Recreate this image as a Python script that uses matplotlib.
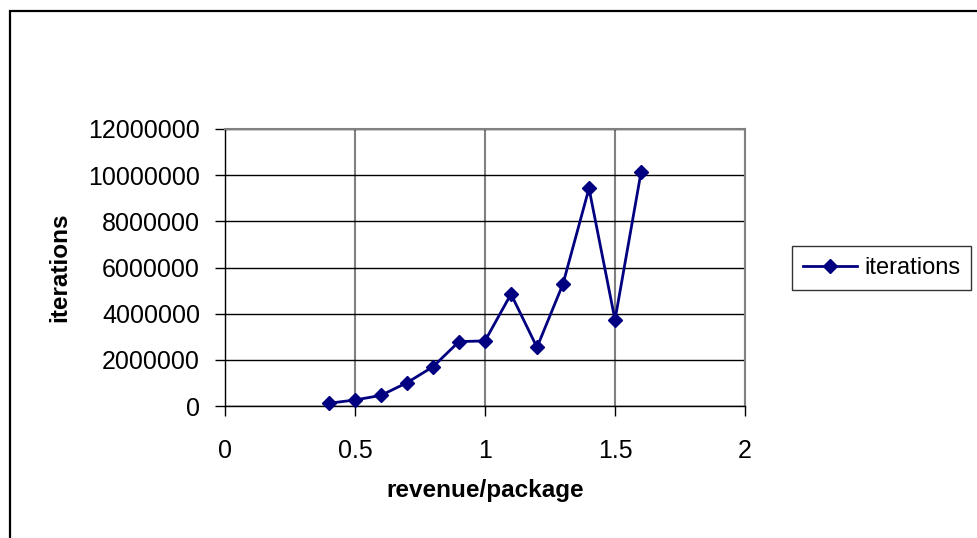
import numpy as np
import matplotlib
matplotlib.use("Agg")
import matplotlib.pyplot as plt
from matplotlib.patches import Rectangle

plt.rcParams["font.family"] = ["Liberation Sans", "DejaVu Sans"]

revenue = [0.4, 0.5, 0.6, 0.7, 0.8, 0.9, 1.0, 1.1, 1.2, 1.3, 1.4, 1.5, 1.6]
iterations = [120000, 260000, 460000, 1010000, 1700000, 2790000, 2820000,
              4850000, 2540000, 5290000, 9430000, 3730000, 10120000]
x_ticks = [0, 0.5, 1, 1.5, 2]
y_ticks = [0, 2000000, 4000000, 6000000, 8000000, 10000000, 12000000]

navy = "#000080"

fig = plt.figure(figsize=(9.78, 5.38), dpi=100)
# outer chart frame (runs off the right and bottom edges)
fig.patches.append(Rectangle((10 / 978, -0.1), 1.1, (538 - 11) / 538 + 0.1,
                             transform=fig.transFigure, fill=False,
                             edgecolor="black", linewidth=1.6))

ax = fig.add_axes([225 / 978, 1 - 406 / 538, 520 / 978, 277 / 538])
ax.set_xlim(0, 2)
ax.set_ylim(0, 12000000)
ax.set_xticks(x_ticks)
ax.set_xticklabels([f"{t:g}" for t in x_ticks])
ax.set_yticks(y_ticks)
ax.set_yticklabels([str(t) for t in y_ticks])

ax.grid(axis="y", color="black", linewidth=1)
ax.grid(axis="x", color="#808080", linewidth=1.5)
ax.set_axisbelow(True)
for side in ("top", "right"):
    ax.spines[side].set_color("#808080")
    ax.spines[side].set_linewidth(1.5)
for side in ("left", "bottom"):
    ax.spines[side].set_color("black")
    ax.spines[side].set_linewidth(1)

ax.tick_params(direction="out", length=7, width=1, labelsize=18)
ax.tick_params(axis="x", pad=17)
ax.tick_params(axis="y", pad=11)

ax.plot(revenue, iterations, color=navy, linewidth=2, marker="D",
        markersize=7, label="iterations", clip_on=False, zorder=3)

ax.set_xlabel("revenue/package", fontsize=17.5, fontweight="bold", labelpad=11)
ax.set_ylabel("iterations", fontsize=17.5, fontweight="bold", labelpad=12)

leg = ax.legend(loc="center left", bbox_to_anchor=(792 / 978, 1 - 268 / 538),
                bbox_transform=fig.transFigure, fontsize=17, frameon=True,
                fancybox=False, edgecolor="black", handlelength=2.3,
                borderpad=0.45, handletextpad=0.3, borderaxespad=0)
leg.get_frame().set_linewidth(1)

fig.savefig("out.png", dpi=100)
